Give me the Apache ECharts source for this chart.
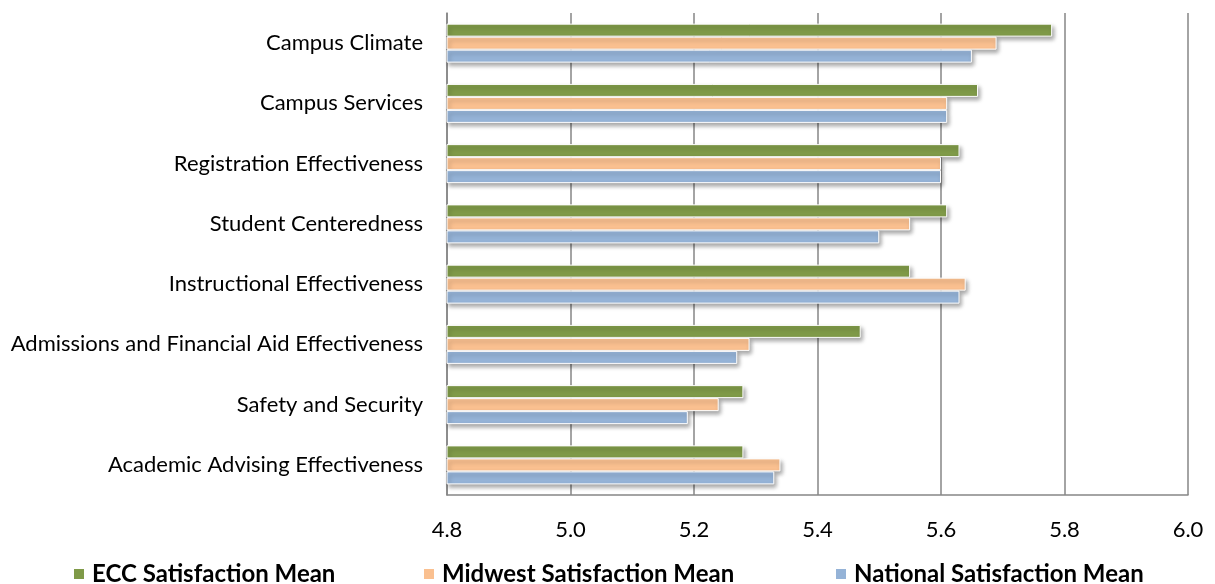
<!DOCTYPE html>
<html><head><meta charset="utf-8">
<script src="https://cdn.jsdelivr.net/npm/echarts@6/dist/echarts.min.js"></script>
<style>html,body{margin:0;padding:0;background:#fff}#c{width:1215px;height:584px}</style>
</head><body><div id="c"></div>
<script>
const categories = ["Campus Climate","Campus Services","Registration Effectiveness","Student Centeredness","Instructional Effectiveness","Admissions and Financial Aid Effectiveness","Safety and Security","Academic Advising Effectiveness"];
const seriesNames = ["ECC Satisfaction Mean","Midwest Satisfaction Mean","National Satisfaction Mean"];
const eccValues = [5.78,5.66,5.63,5.61,5.55,5.47,5.28,5.28];
const midwestValues = [5.69,5.61,5.60,5.55,5.64,5.29,5.24,5.34];
const nationalValues = [5.65,5.61,5.60,5.50,5.63,5.27,5.19,5.33];
const xTickLabels = ["4.8","5.0","5.2","5.4","5.6","5.8","6.0"];
const colors = ["#7F9A48","#FAC090","#95B3D7"];
const values = [eccValues, midwestValues, nationalValues];
const FONT = "Lato";
const chart = echarts.init(document.getElementById('c'));
const legendLefts = [72, 422, 834];
chart.setOption({
  animation:false,
  grid:{left:447,right:27,top:13,bottom:89,containLabel:false},
  legend: seriesNames.map((n,i)=>({
    data:[n], left:legendLefts[i], top:562, padding:0, itemWidth:12, itemHeight:12, itemGap:8,
    icon:'rect', textStyle:{fontFamily:FONT,fontSize:24,lineHeight:24,fontWeight:'bold',color:'#000',padding:[0,0,0,2]}
  })),
  xAxis:{type:'value',min:4.8,max:6.0,interval:0.2,
    axisLine:{show:true,lineStyle:{color:'#868686',width:1.5}},
    axisTick:{show:false},
    splitLine:{show:true,lineStyle:{color:'#868686',width:1.5}},
    axisLabel:{margin:24,fontFamily:FONT,fontSize:22,color:'#000',
      formatter:(v)=>{const i=Math.round((v-4.8)/0.2);return xTickLabels[i]!==undefined?xTickLabels[i]:'';}}
  },
  yAxis:{type:'category',data:categories,inverse:true,
    axisLine:{show:true,lineStyle:{color:'#868686',width:1.5}},
    axisTick:{show:false},
    axisLabel:{margin:24,fontFamily:FONT,fontSize:22,color:'#000'}
  },
  series: seriesNames.map((n,i)=>({
    name:n,type:'bar',data:values[i],barWidth:13,barGap:'0%',
    itemStyle:{color:colors[i],borderColor:'#fff',borderWidth:1,
      shadowBlur:4,shadowOffsetX:2,shadowOffsetY:3,shadowColor:'rgba(0,0,0,0.35)'}
  }))
});
</script></body></html>
